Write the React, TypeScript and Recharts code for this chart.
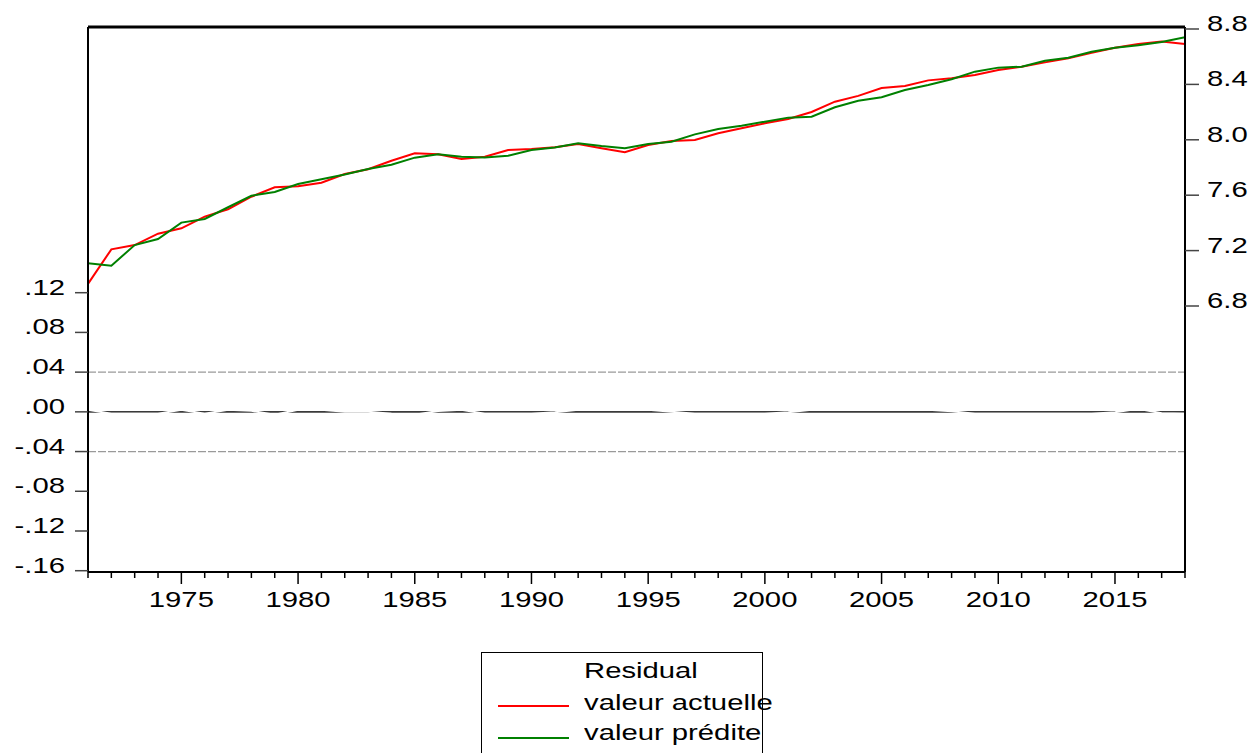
import React from 'react';
import {
  ComposedChart,
  Line,
  XAxis,
  YAxis,
  ReferenceLine,
} from 'recharts';

const YEARS = [
  1971, 1972, 1973, 1974, 1975, 1976, 1977, 1978, 1979, 1980,
  1981, 1982, 1983, 1984, 1985, 1986, 1987, 1988, 1989, 1990,
  1991, 1992, 1993, 1994, 1995, 1996, 1997, 1998, 1999, 2000,
  2001, 2002, 2003, 2004, 2005, 2006, 2007, 2008, 2009, 2010,
  2011, 2012, 2013, 2014, 2015, 2016, 2017, 2018,
];

// valeur actuelle (axe droit)
const ACTUAL = [
  6.96, 7.209, 7.24, 7.322, 7.361, 7.445, 7.498, 7.589, 7.657, 7.664,
  7.69, 7.753, 7.787, 7.849, 7.902, 7.895, 7.862, 7.878, 7.926, 7.934,
  7.946, 7.97, 7.939, 7.91, 7.962, 7.991, 7.999, 8.047, 8.083, 8.119,
  8.15, 8.201, 8.275, 8.317, 8.374, 8.388, 8.429, 8.444, 8.468, 8.504,
  8.528, 8.559, 8.588, 8.629, 8.665, 8.692, 8.709, 8.692,
];

// valeur prédite (axe droit)
const FITTED = [
  7.108, 7.091, 7.24, 7.284, 7.402, 7.428, 7.513, 7.596, 7.623, 7.681,
  7.715, 7.75, 7.789, 7.82, 7.871, 7.895, 7.878, 7.873, 7.885, 7.926,
  7.944, 7.975, 7.955, 7.939, 7.97, 7.986, 8.039, 8.078, 8.102, 8.131,
  8.16, 8.167, 8.235, 8.282, 8.307, 8.36, 8.396, 8.437, 8.492, 8.521,
  8.528, 8.571, 8.593, 8.636, 8.665, 8.682, 8.706, 8.74,
];

// Residual (axe gauche), tracé en blanc
const RESIDUAL = [
  0.002, -0.002, -0.002, -0.002, 0.002, -0.002, 0.002, 0.001, -0.003, 0.002,
  0.002, 0.0, 0.0, -0.002, -0.003, 0.0008, 0.002, -0.002, -0.002, -0.002,
  -0.0005, 0.002, 0.002, 0.002, 0.002, 0.0002, -0.002, -0.002, -0.002, -0.002,
  -0.0004, 0.002, 0.002, 0.002, 0.002, 0.002, 0.002, 0.0006, -0.002, -0.002,
  -0.002, -0.002, -0.002, -0.002, -0.0004, 0.003, -0.0015, -0.002,
];

const LEFT_TICKS = [-0.16, -0.12, -0.08, -0.04, 0, 0.04, 0.08, 0.12];
const RIGHT_TICKS = [6.8, 7.2, 7.6, 8.0, 8.4, 8.8];
const LEFT_DOMAIN = [-0.1613, 0.3876];
const RIGHT_DOMAIN = [4.8794, 8.8144];

const data = YEARS.map((year, i) => ({
  year,
  actual: ACTUAL[i],
  fitted: FITTED[i],
  residual: RESIDUAL[i],
}));

const FONT = '"Liberation Sans", Arial, sans-serif';
const STRETCH = 1.33;

const fmtLeft = (v: number) => {
  const s = Math.abs(v).toFixed(2).replace(/^0/, '');
  return v < 0 ? `-${s}` : s;
};

const LeftTick = ({ x, y, payload }: any) => (
  <text
    transform={`translate(${x},${y + 2}) scale(${STRETCH},1)`}
    textAnchor="end"
    fontSize={22}
    fontFamily={FONT}
    fill="#000"
  >
    {fmtLeft(payload.value)}
  </text>
);

const RightTick = ({ x, y, payload }: any) => (
  <text
    transform={`translate(${x},${y + 2}) scale(${STRETCH},1)`}
    textAnchor="start"
    fontSize={22}
    fontFamily={FONT}
    fill="#000"
  >
    {Number(payload.value).toFixed(1)}
  </text>
);

const YearTick = ({ x, y, payload }: any) => {
  const major = payload.value % 5 === 0;
  return (
    <g>
      <line x1={x} x2={x} y1={y} y2={y + (major ? 12 : 6)} stroke="#000" strokeWidth={1.5} />
      {major && (
        <text
          transform={`translate(${x},${y + 35}) scale(${STRETCH},1)`}
          textAnchor="middle"
          fontSize={22}
          fontFamily={FONT}
          fill="#000"
        >
          {payload.value}
        </text>
      )}
    </g>
  );
};

const legendText: React.CSSProperties = {
  position: 'absolute',
  left: 102,
  fontFamily: FONT,
  fontSize: 22,
  lineHeight: '22px',
  whiteSpace: 'nowrap',
  transform: `scaleX(${STRETCH})`,
  transformOrigin: 'left top',
  color: '#000',
};

export default function App() {
  return (
    <div
      style={{
        position: 'absolute',
        left: 0,
        top: 0,
        width: 1255,
        height: 753,
        overflow: 'hidden',
        background: '#fff',
      }}
    >
      <ComposedChart
        width={1255}
        height={753}
        data={data}
        margin={{ top: 27, right: 0, bottom: 141, left: 0 }}
      >
        <XAxis
          dataKey="year"
          type="number"
          domain={[1971, 2018]}
          ticks={YEARS}
          interval={0}
          tickSize={0}
          tickMargin={0}
          tickLine={false}
          tick={<YearTick />}
          axisLine={{ stroke: '#000', strokeWidth: 2 }}
          height={40}
          allowDataOverflow
        />
        <YAxis
          yAxisId="left"
          orientation="left"
          width={88}
          domain={LEFT_DOMAIN}
          ticks={LEFT_TICKS}
          interval={0}
          allowDataOverflow
          tickSize={13}
          tickMargin={10}
          tickLine={{ stroke: '#444', strokeWidth: 1.5 }}
          tick={<LeftTick />}
          axisLine={{ stroke: '#000', strokeWidth: 2 }}
        />
        <YAxis
          yAxisId="right"
          orientation="right"
          width={70}
          domain={RIGHT_DOMAIN}
          ticks={RIGHT_TICKS}
          interval={0}
          allowDataOverflow
          tickSize={14}
          tickMargin={8}
          tickLine={{ stroke: '#444', strokeWidth: 1.5 }}
          tick={<RightTick />}
          axisLine={{ stroke: '#000', strokeWidth: 2 }}
        />
        <ReferenceLine yAxisId="left" y={LEFT_DOMAIN[1]} stroke="#000" strokeWidth={3} />
        <ReferenceLine yAxisId="left" y={0.04} stroke="#9a9a9a" strokeWidth={1.2} strokeDasharray="8 2" />
        <ReferenceLine yAxisId="left" y={-0.04} stroke="#9a9a9a" strokeWidth={1.2} strokeDasharray="8 2" />
        <ReferenceLine yAxisId="left" y={0} stroke="#3a3a3a" strokeWidth={1.6} />
        <Line
          yAxisId="left"
          type="linear"
          dataKey="residual"
          name="Residual"
          stroke="#ffffff"
          strokeWidth={2}
          dot={false}
          isAnimationActive={false}
        />
        <Line
          yAxisId="right"
          type="linear"
          dataKey="actual"
          name="valeur actuelle"
          stroke="#ff0000"
          strokeWidth={2}
          dot={false}
          isAnimationActive={false}
        />
        <Line
          yAxisId="right"
          type="linear"
          dataKey="fitted"
          name="valeur prédite"
          stroke="#008000"
          strokeWidth={2}
          dot={false}
          isAnimationActive={false}
        />
      </ComposedChart>

      <div
        style={{
          position: 'absolute',
          left: 481,
          top: 652,
          width: 280,
          height: 110,
          border: '1px solid #000',
          background: '#fff',
        }}
      >
        <div style={{ ...legendText, top: 7 }}>Residual</div>
        <div style={{ position: 'absolute', left: 16, top: 52, width: 71, height: 2, background: '#ff0000' }} />
        <div style={{ ...legendText, top: 39 }}>valeur actuelle</div>
        <div style={{ position: 'absolute', left: 16, top: 84, width: 71, height: 2, background: '#008000' }} />
        <div style={{ ...legendText, top: 69 }}>valeur prédite</div>
      </div>
    </div>
  );
}
